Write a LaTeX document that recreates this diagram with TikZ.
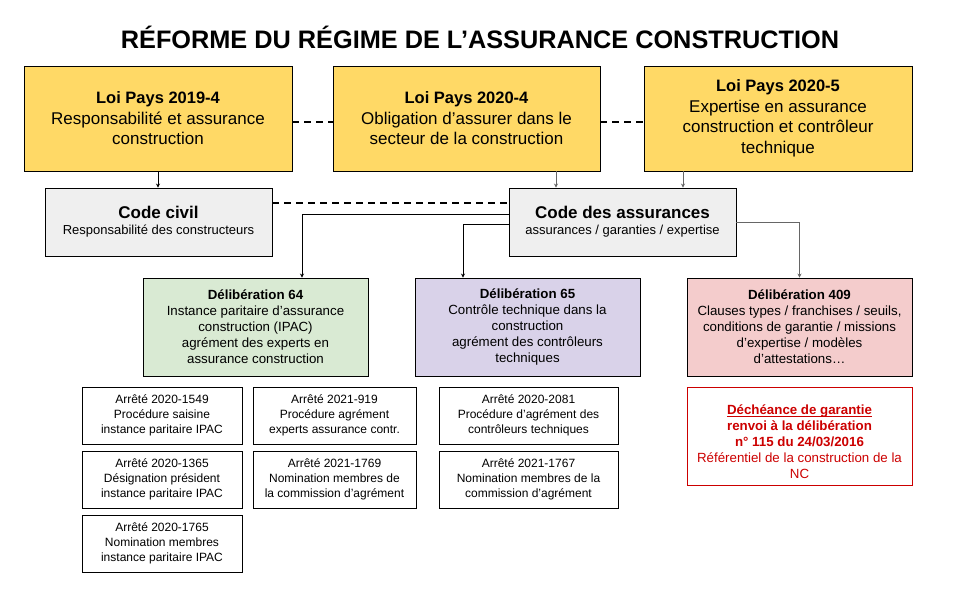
\documentclass[tikz,border=0pt]{standalone}
\usepackage{fontspec}
\setmainfont{Liberation Sans}
\usetikzlibrary{arrows.meta}
\definecolor{yel}{HTML}{FFD966}
\definecolor{gry}{HTML}{EFEFEF}
\definecolor{grn}{HTML}{D9EAD3}
\definecolor{prp}{HTML}{D9D2E9}
\definecolor{pnk}{HTML}{F4CCCC}
\definecolor{redt}{HTML}{CC0000}
\definecolor{lgray}{HTML}{666666}
\tikzset{
  box/.style={draw=black, line width=0.9pt, align=center, inner sep=2pt},
  ybox/.style={box, fill=yel, minimum height=105pt, font=\fontsize{17}{20.5}\selectfont},
  cbox/.style={box, fill=gry, minimum width=227pt, minimum height=68pt},
  dbox/.style={box, minimum width=225pt, minimum height=98pt, font=\fontsize{13.3}{16}\selectfont},
  abox/.style={box, minimum height=57pt, font=\fontsize{12}{15}\selectfont},
  conn/.style={draw=black, line width=0.9pt, -{Stealth[length=4pt,width=4pt]}},
  gconn/.style={draw=lgray, line width=0.9pt, -{Stealth[length=4pt,width=4pt]}},
  dconn/.style={draw=black, line width=1.8pt, dash pattern=on 7pt off 5pt},
}
\begin{document}
\begin{tikzpicture}[x=1pt,y=-1pt]
\useasboundingbox (0,0) rectangle (960,600);
\node[font=\fontsize{25.3}{28}\bfseries] (title) at (480,37) {RÉFORME DU RÉGIME DE L’ASSURANCE CONSTRUCTION};

\node[ybox, minimum width=268pt] (A) at (158,118.5) {{\fontsize{16.5}{20.5}\bfseries Loi Pays 2019-4}\\Responsabilité et assurance\\construction};
\node[ybox, minimum width=267pt] (B) at (466.5,118.5) {{\fontsize{16.5}{20.5}\bfseries Loi Pays 2020-4}\\Obligation d’assurer dans le\\secteur de la construction};
\node[ybox, minimum width=268pt] (C) at (778,118.5) {{\fontsize{16.5}{20.5}\bfseries Loi Pays 2020-5}\\Expertise en assurance\\construction et contrôleur\\technique};

\node[cbox] (civil) at (158.5,222) {{\fontsize{17}{20}\bfseries Code civil}\\[4pt]{\fontsize{13}{16}\selectfont Responsabilité des constructeurs}};
\node[cbox] (assur) at (622.5,222) {{\fontsize{17}{20}\bfseries Code des assurances}\\[4pt]{\fontsize{13}{16}\selectfont assurances / garanties / expertise}};

\node[dbox, fill=grn] (d64) at (255.5,327) {\textbf{Délibération 64}\\Instance paritaire d’assurance\\construction (IPAC)\\agrément des experts en\\assurance construction};
\node[dbox, fill=prp] (d65) at (527.5,327) {\textbf{Délibération 65}\\Contrôle technique dans la\\construction\\agrément des contrôleurs\\techniques};
\node[dbox, fill=pnk] (d409) at (799.5,327) {\textbf{Délibération 409}\\Clauses types / franchises / seuils,\\conditions de garantie / missions\\d’expertise / modèles\\d’attestations…};

\node[abox, minimum width=160pt] (a1) at (162,415.5) {Arrêté 2020-1549\\Procédure saisine\\instance paritaire IPAC};
\node[abox, minimum width=160pt] (a2) at (162,479.5) {Arrêté 2020-1365\\Désignation président\\instance paritaire IPAC};
\node[abox, minimum width=160pt] (a3) at (162,543.5) {Arrêté 2020-1765\\Nomination membres\\instance paritaire IPAC};
\node[abox, minimum width=163pt] (b1) at (334.5,415.5) {Arrêté 2021-919\\Procédure agrément\\experts assurance contr.};
\node[abox, minimum width=163pt] (b2) at (334.5,479.5) {Arrêté 2021-1769\\Nomination membres de\\la commission d’agrément};
\node[abox, minimum width=179pt] (c1) at (528.5,415.5) {Arrêté 2020-2081\\Procédure d’agrément des\\contrôleurs techniques};
\node[abox, minimum width=179pt] (c2) at (528.5,479.5) {Arrêté 2021-1767\\Nomination membres de la\\commission d’agrément};

\node[box, draw=redt, line width=0.9pt, minimum width=225pt, minimum height=98pt, text=redt, font=\fontsize{13.3}{16}\selectfont] (red) at (799.5,436) {\rule{0pt}{21pt}\textbf{\underline{\raisebox{0pt}[\height][0pt]{Déchéance de garantie}}}\\\textbf{renvoi à la délibération}\\\textbf{n° 115 du 24/03/2016}\\Référentiel de la construction de la\\NC};

% dashed links
\draw[dconn] ([yshift=-3.5pt]A.east) -- ([yshift=-3.5pt]B.west);
\draw[dconn] ([yshift=-3.5pt]B.east) -- ([yshift=-3.5pt]C.west);
\draw[dconn] ([yshift=19pt]civil.east) -- ([yshift=19pt]assur.west);

% vertical links
\draw[conn] (A.south) -- (A.south |- civil.north);
\draw[gconn] ([xshift=89.5pt]B.south) -- ([xshift=89.5pt]B.south |- assur.north);
\draw[gconn] ([xshift=-95pt]C.south) -- ([xshift=-95pt]C.south |- assur.north);

\draw[conn] ([yshift=8pt]assur.west) -| ([xshift=46.5pt]d64.north);
\draw[conn] ([yshift=-2pt]assur.west) -| ([xshift=-64.5pt]d65.north);
\draw[gconn] (assur.east) -| (d409.north);
\end{tikzpicture}
\end{document}
